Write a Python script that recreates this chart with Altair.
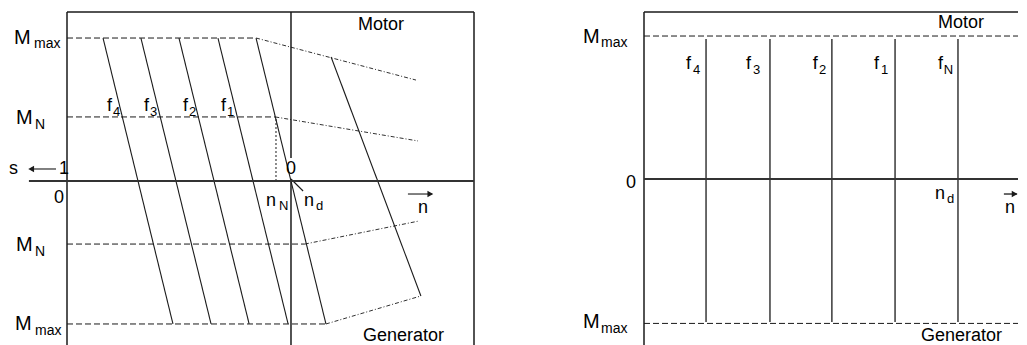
import altair as alt
import pandas as pd

FONT = "Liberation Sans"
INK = "#1a1a1a"

# ------------------------------------------------------------------
# LEFT PANEL  (n in units of n_d, M in units of M_max)
# ------------------------------------------------------------------
L_N = [0.0, 1.817]          # n domain
L_M = [-1.154, 1.182]       # M domain

# constant-frequency characteristics f4, f3, f2, f1, fN
left_freq = ["f4", "f3", "f2", "f1", "fN"]
left_n_top = [0.161, 0.330, 0.500, 0.674, 0.844]   # speed at +M_max
left_n_bot = [0.473, 0.643, 0.813, 0.987, 1.156]   # speed at -M_max
left_m_top = [1.0, 1.0, 1.0, 1.0, 1.0]
left_m_bot = [-1.0, -1.0, -1.0, -1.0, -1.0]

# field-weakening characteristic (f > fN)
fw_n = [1.179, 1.580]
fw_m = [0.867, -0.804]

# torque limit polylines: horizontal part then sloped part
lim_upper_max_n = [0.0, 0.844, 1.558]
lim_upper_max_m = [1.0, 1.0, 0.706]
lim_upper_nom_n = [0.0, 0.930, 1.567]
lim_upper_nom_m = [0.448, 0.448, 0.280]
lim_lower_nom_n = [0.0, 1.062, 1.571]
lim_lower_nom_m = [-0.441, -0.441, -0.280]
lim_lower_max_n = [0.0, 1.156, 1.580]
lim_lower_max_m = [-1.0, -1.0, -0.804]

# rated speed marker n_N
nN_n = [0.933, 0.933]
nN_m = [0.0, 0.448]

# ------------------------------------------------------------------
# RIGHT PANEL
# ------------------------------------------------------------------
R_N = [0.0, 1.670]
R_M = [-1.168, 1.168]
right_freq = ["f4", "f3", "f2", "f1", "fN"]
right_n = [0.277, 0.5625, 0.839, 1.121, 1.402]
right_m_top = 0.98
right_m_bot = -1.0
right_mmax = [1.0, -1.01]


def seg(rows, x, y, x2, y2):
    rows.append({"x": x, "y": y, "x2": x2, "y2": y2})


def polyline_segments(xs, ys):
    rows = []
    for i in range(len(xs) - 1):
        seg(rows, xs[i], ys[i], xs[i + 1], ys[i + 1])
    return rows


def rule_layer(rows, xdom, ydom, width=1.0, dash=None, color=INK):
    kw = dict(color=color, strokeWidth=width)
    if dash:
        kw["strokeDash"] = dash
    return alt.Chart(pd.DataFrame(rows)).mark_rule(**kw).encode(
        x=alt.X("x:Q", scale=alt.Scale(domain=xdom, nice=False, zero=False), axis=None),
        y=alt.Y("y:Q", scale=alt.Scale(domain=ydom, nice=False, zero=False), axis=None),
        x2="x2:Q",
        y2="y2:Q",
    )


def text_layer(rows, xdom, ydom):
    return alt.Chart(pd.DataFrame(rows)).mark_text(
        font=FONT, align="left", baseline="alphabetic", color="#000"
    ).encode(
        x=alt.X("x:Q", scale=alt.Scale(domain=xdom, nice=False, zero=False), axis=None),
        y=alt.Y("y:Q", scale=alt.Scale(domain=ydom, nice=False, zero=False), axis=None),
        text="t:N",
        size=alt.Size("s:Q", scale=None),
    )


def head_layer(rows, xdom, ydom):
    return alt.Chart(pd.DataFrame(rows)).mark_point(
        filled=True, color=INK, opacity=1, size=45
    ).encode(
        x=alt.X("x:Q", scale=alt.Scale(domain=xdom, nice=False, zero=False), axis=None),
        y=alt.Y("y:Q", scale=alt.Scale(domain=ydom, nice=False, zero=False), axis=None),
        shape=alt.Shape("shape:N", scale=None),
    )


# ---------------- left panel layers ----------------
frame_L = []
seg(frame_L, L_N[0], L_M[1], L_N[1], L_M[1])
seg(frame_L, L_N[0], L_M[1], L_N[0], L_M[0])
seg(frame_L, L_N[1], L_M[1], L_N[1], L_M[0])
seg(frame_L, 1.0, L_M[1], 1.0, 0.161)     # n_d axis, interrupted by its "0" label
seg(frame_L, 1.0, 0.0, 1.0, L_M[0])
axis_L = []
seg(axis_L, -0.170, 0.0, L_N[1], 0.0)

solid_L = []
for a, b, c, d in zip(left_n_top, left_m_top, left_n_bot, left_m_bot):
    seg(solid_L, a, b, c, d)
seg(solid_L, fw_n[0], fw_m[0], fw_n[1], fw_m[1])
seg(solid_L, -0.049, 0.084, -0.165, 0.084)      # s <- arrow shaft
seg(solid_L, 1.522, -0.091, 1.630, -0.091)      # n -> arrow shaft
seg(solid_L, 1.0, 0.014, 1.054, -0.070)         # n_d leader

dash_L, dashdot_L = [], []
for xs, ys in [(lim_upper_max_n, lim_upper_max_m), (lim_upper_nom_n, lim_upper_nom_m),
               (lim_lower_nom_n, lim_lower_nom_m), (lim_lower_max_n, lim_lower_max_m)]:
    s = polyline_segments(xs, ys)
    dash_L.append(s[0])
    dashdot_L.append(s[1])
dot_L = []
seg(dot_L, nN_n[0], nN_m[0], nN_n[1], nN_m[1])

texts_L = [
    {"x": -0.237, "y": 0.958, "t": "M", "s": 20}, {"x": -0.147, "y": 0.930, "t": "max", "s": 14},
    {"x": -0.228, "y": 0.399, "t": "M", "s": 20}, {"x": -0.143, "y": 0.364, "t": "N", "s": 14},
    {"x": -0.259, "y": 0.049, "t": "s", "s": 18},
    {"x": -0.036, "y": 0.049, "t": "1", "s": 18},
    {"x": -0.058, "y": -0.154, "t": "0", "s": 18},
    {"x": -0.228, "y": -0.490, "t": "M", "s": 20}, {"x": -0.143, "y": -0.524, "t": "N", "s": 14},
    {"x": -0.232, "y": -1.042, "t": "M", "s": 20}, {"x": -0.143, "y": -1.077, "t": "max", "s": 14},
    {"x": 0.978, "y": 0.049, "t": "0", "s": 18},
    {"x": 0.888, "y": -0.175, "t": "n", "s": 18}, {"x": 0.946, "y": -0.203, "t": "N", "s": 13},
    {"x": 1.058, "y": -0.175, "t": "n", "s": 18}, {"x": 1.112, "y": -0.203, "t": "d", "s": 13},
    {"x": 1.567, "y": -0.224, "t": "n", "s": 18},
    {"x": 1.299, "y": 1.056, "t": "Motor", "s": 18},
    {"x": 1.321, "y": -1.119, "t": "Generator", "s": 18},
]
for name, fx, sx in zip(left_freq[:4], [0.179, 0.344, 0.518, 0.688], [0.205, 0.371, 0.545, 0.714]):
    texts_L.append({"x": fx, "y": 0.490, "t": "f", "s": 18})
    texts_L.append({"x": sx, "y": 0.455, "t": name[1:], "s": 13})

heads_L = [
    {"x": -0.160, "y": 0.084, "shape": "triangle-left"},
    {"x": 1.622, "y": -0.091, "shape": "triangle-right"},
]

left = alt.layer(
    rule_layer(dash_L, L_N, L_M, 1.0, [6, 3]),
    rule_layer(dashdot_L, L_N, L_M, 0.9, [4, 2, 1, 2]),
    rule_layer(dot_L, L_N, L_M, 1.0, [2, 2]),
    rule_layer(solid_L, L_N, L_M, 1.1),
    rule_layer(frame_L, L_N, L_M, 1.5),
    rule_layer(axis_L, L_N, L_M, 2.0, color="#333"),
    head_layer(heads_L, L_N, L_M),
    text_layer(texts_L, L_N, L_M),
).properties(width=407, height=334)

# ---------------- right panel layers ----------------
frame_R = []
seg(frame_R, R_N[0], R_M[1], R_N[1], R_M[1])
seg(frame_R, R_N[0], R_M[1], R_N[0], R_M[0])
axis_R = []
seg(axis_R, R_N[0], 0.0, R_N[1], 0.0)
solid_R = []
for xn in right_n:
    seg(solid_R, xn, right_m_top, xn, right_m_bot)
seg(solid_R, 1.607, -0.105, 1.665, -0.105)
dash_R = []
for m in right_mmax:
    seg(dash_R, R_N[0], m, R_N[1], m)

texts_R = [
    {"x": -0.272, "y": 0.951, "t": "M", "s": 20}, {"x": -0.192, "y": 0.923, "t": "max", "s": 14},
    {"x": -0.080, "y": -0.063, "t": "0", "s": 18},
    {"x": -0.272, "y": -1.042, "t": "M", "s": 20}, {"x": -0.192, "y": -1.077, "t": "max", "s": 14},
    {"x": 1.299, "y": -0.140, "t": "n", "s": 18}, {"x": 1.353, "y": -0.168, "t": "d", "s": 13},
    {"x": 1.612, "y": -0.238, "t": "n", "s": 18},
    {"x": 1.3125, "y": 1.056, "t": "Motor", "s": 18},
    {"x": 1.237, "y": -1.133, "t": "Generator", "s": 18},
]
for name, fx, sx in zip(right_freq, [0.1875, 0.455, 0.754, 1.027, 1.3125],
                        [0.219, 0.487, 0.781, 1.058, 1.339]):
    texts_R.append({"x": fx, "y": 0.769, "t": "f", "s": 18})
    texts_R.append({"x": sx, "y": 0.734, "t": name[1:], "s": 13})

heads_R = [{"x": 1.655, "y": -0.105, "shape": "triangle-right"}]

right = alt.layer(
    rule_layer(dash_R, R_N, R_M, 1.0, [6, 3]),
    rule_layer(solid_R, R_N, R_M, 1.3),
    rule_layer(frame_R, R_N, R_M, 1.5),
    rule_layer(axis_R, R_N, R_M, 2.0, color="#333"),
    head_layer(heads_R, R_N, R_M),
    text_layer(texts_R, R_N, R_M),
).properties(width=374, height=334)

chart = alt.hconcat(left, right, spacing=108).configure_view(stroke=None).properties(
    padding={"left": 0, "top": 3, "right": 0, "bottom": 0}
)

chart.save("out.html", embed_options={"renderer": "svg", "actions": False})
